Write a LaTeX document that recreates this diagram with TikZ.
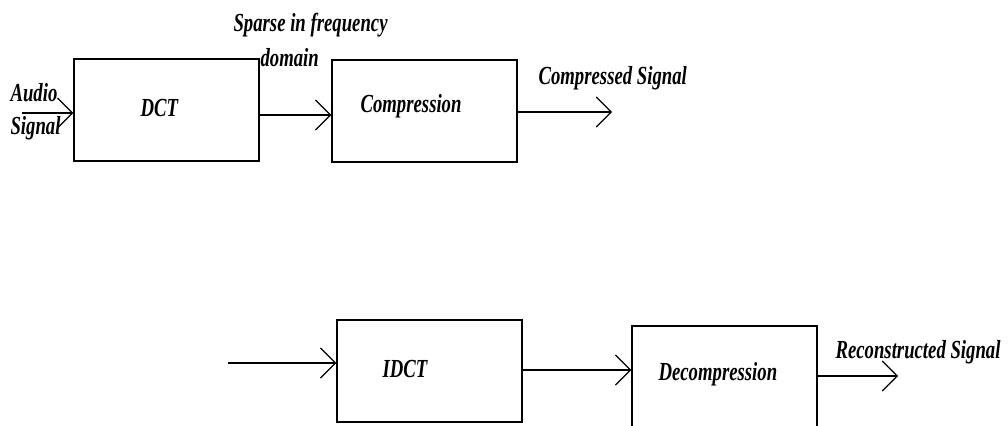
\documentclass[tikz,border=0pt]{standalone}
\usepackage{fontspec}
\newfontfamily\lblfont[FakeStretch=0.72]{Liberation Serif}
\usetikzlibrary{positioning,arrows.meta,calc}
\tikzset{
  blk/.style={draw,line width=1pt,minimum width=4.625cm,minimum height=2.55cm,inner sep=0pt},
  lbl/.style={font=\lblfont\bfseries\itshape\fontsize{18.5}{24}\selectfont,inner sep=0pt,anchor=base west},
  >={Straight Barb[length=3.75mm,width=7.5mm]},
}

\begin{document}
\begin{tikzpicture}[x=0.025cm,y=-0.025cm,line width=0.8pt]
\useasboundingbox (0,0) rectangle (1008,426);
\clip (0,0) rectangle (1008,426);

% upper chain
\node[blk] (dct)  at (166.5,110) {};
\node[blk] (comp) at (424.5,111) {};
\node[lbl] (dcttxt)  at (140,117) {DCT};
\node[lbl] (comptxt) at (360,113) {Compression};

\node[lbl] (audio)  at (10,102) {Audio};
\node[lbl] (signal) at (10,135) {Signal};
\node[lbl] (sparse) at (233,32) {Sparse in frequency};
\node[lbl] (domain) at (260,67) {domain};
\node[lbl] (cmpsig) at (538,85) {Compressed Signal};

\coordinate (ain)  at (22,113);
\coordinate (cout) at (612,112);

\draw[->] (ain) -- (ain -| dct.west);
\draw[->] (dct.east |- 0,115) -- (comp.west |- 0,115);
\draw[->] (comp.east |- cout) -- (cout);

% lower chain
\node[blk] (idct)   at (429.5,371) {};
\node[blk] (decomp) at (724.5,377) {};
\node[lbl] (idcttxt)   at (382,377) {IDCT};
\node[lbl] (decomptxt) at (658,380) {Decompression};
\node[lbl] (recsig)    at (835,358) {Reconstructed Signal};

\coordinate (iin)  at (228,363);
\coordinate (dout) at (898,376);

\draw[->] (iin) -- (iin -| idct.west);
\draw[->] (idct.east |- 0,370) -- (decomp.west |- 0,370);
\draw[->] (decomp.east |- dout) -- (dout);

\end{tikzpicture}
\end{document}
